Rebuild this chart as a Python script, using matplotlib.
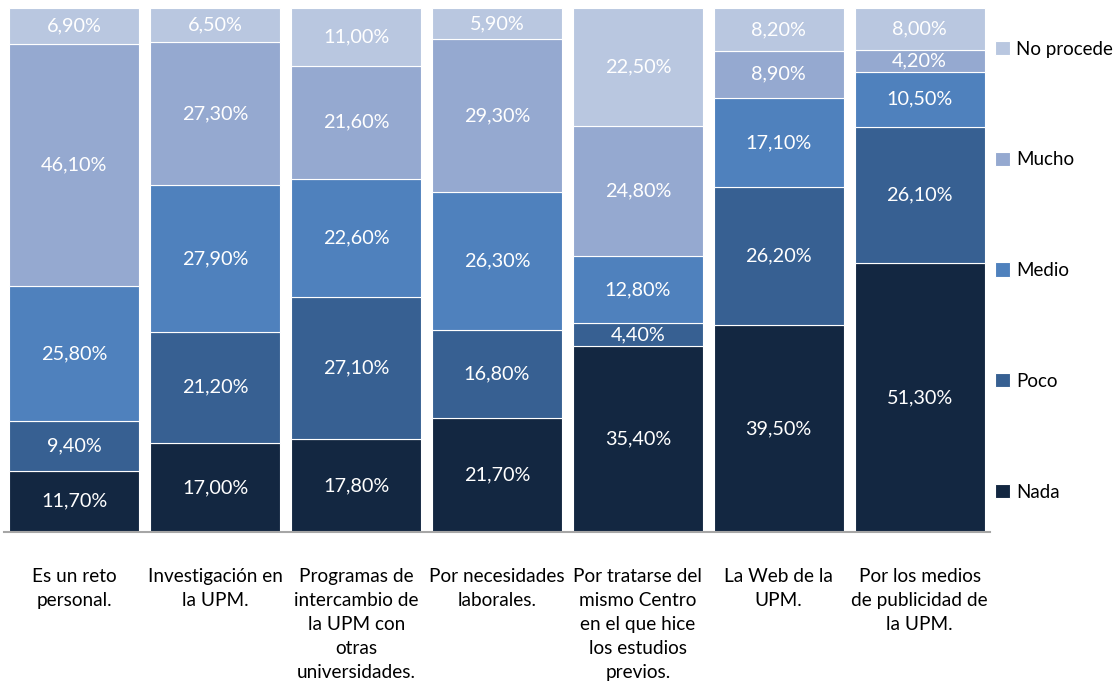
import matplotlib.pyplot as plt
import numpy as np

plt.rcParams['font.family'] = ['Lato', 'DejaVu Sans']

categories = ['Es un reto\npersonal.', 'Investigación en\nla UPM.',
              'Programas de\nintercambio de\nla UPM con\notras\nuniversidades.',
              'Por necesidades\nlaborales.',
              'Por tratarse del\nmismo Centro\nen el que hice\nlos estudios\nprevios.',
              'La Web de la\nUPM.', 'Por los medios\nde publicidad de\nla UPM.']
series = ['Nada', 'Poco', 'Medio', 'Mucho', 'No procede']
nada = [11.7, 17.0, 17.8, 21.7, 35.4, 39.5, 51.3]
poco = [9.4, 21.2, 27.1, 16.8, 4.4, 26.2, 26.1]
medio = [25.8, 27.9, 22.6, 26.3, 12.8, 17.1, 10.5]
mucho = [46.1, 27.3, 21.6, 29.3, 24.8, 8.9, 4.2]
no_procede = [6.9, 6.5, 11.0, 5.9, 22.5, 8.2, 8.0]
colors = ['#132741', '#376092', '#4F81BD', '#95A9D0', '#B9C7E0']

values = np.array([nada, poco, medio, mucho, no_procede])
totals = values.sum(axis=0)
shares = values / totals * 100  # 100% stacked

fig = plt.figure(figsize=(11.19, 6.84), dpi=100)
ax = fig.add_axes([4/1119, 152/684, 986/1119, 524/684])

x = np.arange(len(categories))
bottom = np.zeros(len(categories))
handles = []
for i, name in enumerate(series):
    b = ax.bar(x, shares[i], 0.923, bottom=bottom, color=colors[i],
               edgecolor='white', linewidth=0.8, label=name)
    handles.append(b)
    for j in range(len(categories)):
        txt = f'{values[i][j]:.2f}%'.replace('.', ',')
        ax.text(x[j], bottom[j] + shares[i][j] / 2, txt, ha='center', va='center',
                color='white', fontsize=14.3)
    bottom += shares[i]

ax.set_xlim(-0.5, len(categories) - 0.5)
ax.set_ylim(0, 100)
ax.set_yticks([])
ax.set_xticks([])
for s in ['top', 'right', 'left']:
    ax.spines[s].set_visible(False)
ax.spines['bottom'].set_color('#A6A6A6')
ax.spines['bottom'].set_linewidth(1.5)

for j, c in enumerate(categories):
    ax.text(x[j], -6.8, c, ha='center', va='top', fontsize=13.7,
            linespacing=1.5, color='black')

leg = fig.legend(handles[::-1], series[::-1], loc='upper left',
                 bbox_to_anchor=(987/1119, 1 - 33/684), frameon=False,
                 fontsize=13.5, handlelength=0.8, handleheight=0.8,
                 handletextpad=0.35, labelspacing=5.0, borderaxespad=0)

fig.savefig('out.png', dpi=100)
